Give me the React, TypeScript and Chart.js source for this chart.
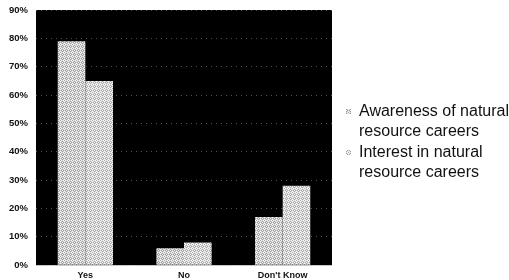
import React, { useEffect, useRef } from "react";
import { Chart, registerables } from "chart.js";

Chart.register(...registerables);

const categories = ["Yes", "No", "Don't Know"];
const awareness = [79, 6, 17];
const interest = [65, 8, 28];
const seriesLabels = ["Awareness of natural resource careers", "Interest in natural resource careers"];
const legendLines = [
  ["Awareness of natural", "resource careers"],
  ["Interest in natural", "resource careers"],
];
const yTicks = [0, 10, 20, 30, 40, 50, 60, 70, 80, 90];

const FONT = "'Liberation Sans', Arial, Helvetica, sans-serif";

function makePattern(a: string, b: string, c: string) {
  const cv = document.createElement("canvas");
  cv.width = 4;
  cv.height = 4;
  const g = cv.getContext("2d")!;
  const map = [
    [0, 1, 2, 1],
    [1, 2, 0, 2],
    [2, 0, 1, 0],
    [1, 2, 0, 2],
  ];
  const cols = [a, b, c];
  for (let y = 0; y < 4; y++) for (let x = 0; x < 4; x++) {
    g.fillStyle = cols[map[y][x]];
    g.fillRect(x, y, 1, 1);
  }
  return g.createPattern(cv, "repeat")!;
}

export default function App() {
  const ref = useRef<HTMLCanvasElement>(null);
  useEffect(() => {
    const p1 = makePattern("#a0a0a0", "#f4f4f4", "#d2d2d2");
    const p2 = makePattern("#a8a8a8", "#f8f8f8", "#d8d8d8");
    const bgPlugin = {
      id: "bg",
      beforeDraw(chart: any) {
        const { ctx, chartArea: a } = chart;
        ctx.save();
        ctx.fillStyle = "#ffffff";
        ctx.fillRect(0, 0, chart.width, chart.height);
        ctx.fillStyle = "#000000";
        ctx.fillRect(a.left, a.top, a.right - a.left, a.bottom - a.top);
        ctx.restore();
      },
    };
    const legendPlugin = {
      id: "customLegend",
      afterDraw(chart: any) {
        const ctx = chart.ctx;
        ctx.save();
        ctx.font = `16px ${FONT}`;
        ctx.textBaseline = "middle";
        const starts = [112, 153];
        legendLines.forEach((lines, i) => {
          const y0 = starts[i];
          ctx.fillStyle = i === 0 ? p1 : p2;
          ctx.fillRect(346, y0 - 3, 5, 5);
          ctx.fillStyle = "#111";
          lines.forEach((t, j) => ctx.fillText(t, 359, y0 + j * 20));
        });
        ctx.restore();
      },
    };
    const chart = new Chart(ref.current!, {
      type: "bar",
      data: {
        labels: categories,
        datasets: [
          { label: seriesLabels[0], data: awareness, backgroundColor: p1, borderWidth: 0, categoryPercentage: 0.56, barPercentage: 1 },
          { label: seriesLabels[1], data: interest, backgroundColor: p2, borderWidth: 0, categoryPercentage: 0.56, barPercentage: 1 },
        ],
      },
      options: {
        responsive: false,
        animation: false,
        layout: { padding: { left: 1, right: 177, top: 10, bottom: -6 } },
        plugins: { legend: { display: false }, tooltip: { enabled: false } },
        scales: {
          x: {
            grid: { display: false, drawTicks: false },
            border: { display: false },
            ticks: { color: "#111", font: { family: FONT, size: 9, weight: "bold" }, padding: 5 },
          },
          y: {
            min: 0,
            max: 90,
            afterBuildTicks(axis: any) {
              axis.ticks = yTicks.map((v) => ({ value: v }));
            },
            afterFit(axis: any) {
              axis.paddingTop = 0;
              axis.paddingBottom = 0;
            },
            grid: { color: "rgba(180,180,180,0.45)", drawTicks: false, lineWidth: 1 },
            border: { display: false, dash: [1, 4] },
            ticks: {
              color: "#111",
              font: { family: FONT, size: 9.5, weight: "bold" },
              padding: 8,
              callback: (v: any) => v + "%",
            },
          },
        },
      },
      plugins: [bgPlugin, legendPlugin],
    });
    return () => chart.destroy();
  }, []);
  return (
    <div style={{ position: "fixed", left: 0, top: 0, width: 509, height: 280 }}>
      <canvas ref={ref} width={509} height={280} />
    </div>
  );
}
